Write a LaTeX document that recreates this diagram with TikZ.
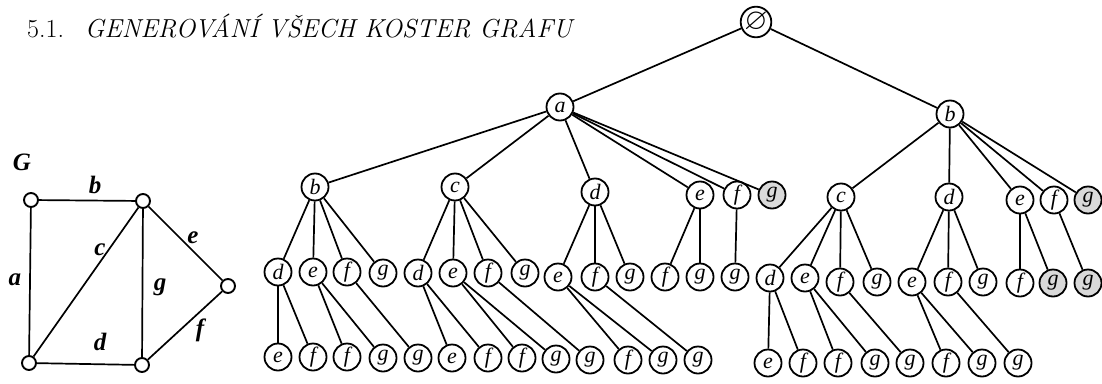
\documentclass[tikz,border=0pt]{standalone}
\usepackage{fontspec}
\usepackage{amssymb}
\newfontfamily\figfont{Liberation Serif}
\begin{document}
\begin{tikzpicture}[x=1pt,y=-1pt,
  vx/.style={circle,draw,line width=1.8pt,minimum size=27pt,inner sep=0pt,
    font=\figfont\itshape\fontsize{22}{22}\selectfont},
  dead/.style={vx,fill=gray!30},
  edge/.style={line width=1.7pt},
  gv/.style={circle,draw,line width=1.9pt,minimum size=14pt,inner sep=0pt,fill=white},
  gedge/.style={line width=1.7pt},
  lbl/.style={font=\figfont\bfseries\itshape\fontsize{25}{25}\selectfont},
]
\useasboundingbox (0,0) rectangle (1102,383);

% heading
\node[anchor=base west,inner sep=0pt,font=\fontsize{26}{30}\selectfont] (title) at (27,37)
  {5.1.\hspace{0.8em}\itshape GENEROVÁNÍ VŠECH KOSTER GRAFU};

% graph G
\node[lbl] (Gname) at (22,162) {G};
\node[gv] (v1) at (31,200) {};
\node[gv] (v2) at (143,201) {};
\node[gv] (v3) at (228,286) {};
\node[gv] (v4) at (29,363) {};
\node[gv] (v5) at (142,365) {};
\draw[gedge] (v1) -- (v4);
\draw[gedge] (v1) -- (v2);
\draw[gedge] (v4) -- (v2);
\draw[gedge] (v4) -- (v5);
\draw[gedge] (v2) -- (v3);
\draw[gedge] (v5) -- (v3);
\draw[gedge] (v2) -- (v5);
\node[lbl] (la) at (15,280) {a};
\node[lbl] (lb) at (95,185) {b};
\node[lbl] (lc) at (100,250) {c};
\node[lbl] (ld) at (100,342) {d};
\node[lbl] (le) at (193,238) {e};
\node[lbl] (lf) at (200,330) {f};
\node[lbl] (lg) at (160,287) {g};

% search tree: root and first level
\node[vx] (r) at (756,22) {\fontsize{30}{30}\selectfont$\varnothing$};
\node[vx] (a) at (560,107) {a};
\node[vx] (b) at (950,114) {b};

% second level
\node[vx] (ab) at (315,187) {b};
\node[vx] (ac) at (455,187) {c};
\node[vx] (ad) at (595,192) {d};
\node[vx] (ae) at (700,195) {e};
\node[vx] (af) at (737,195) {f};
\node[dead] (ag) at (772,195) {g};
\node[vx] (bc) at (841,197) {c};
\node[vx] (bd) at (949,197) {d};
\node[vx] (be) at (1020,200) {e};
\node[vx] (bf) at (1054,200) {f};
\node[dead] (bg) at (1088,200) {g};

% third level
\node[vx] (abd) at (278,272) {d};
\node[vx] (abe) at (313,272) {e};
\node[vx] (abf) at (347,272) {f};
\node[vx] (abg) at (383,273) {g};
\node[vx] (acd) at (418,273) {d};
\node[vx] (ace) at (453,273) {e};
\node[vx] (acf) at (488,273) {f};
\node[vx] (acg) at (525,273) {g};
\node[vx] (ade) at (558,277) {e};
\node[vx] (adf) at (595,277) {f};
\node[vx] (adg) at (630,277) {g};
\node[vx] (aef) at (665,277) {f};
\node[vx] (aeg) at (700,277) {g};
\node[vx] (afg) at (735,277) {g};
\node[vx] (bcd) at (770,278) {d};
\node[vx] (bce) at (805,278) {e};
\node[vx] (bcf) at (840,282) {f};
\node[vx] (bcg) at (877,282) {g};
\node[vx] (bde) at (912,282) {e};
\node[vx] (bdf) at (948,282) {f};
\node[vx] (bdg) at (983,282) {g};
\node[vx] (bef) at (1020,283) {f};
\node[dead] (beg) at (1053,283) {g};
\node[dead] (bfg) at (1088,283) {g};

% fourth level
\node[vx] (abde) at (278,357) {e};
\node[vx] (abdf) at (313,357) {f};
\node[vx] (abef) at (347,357) {f};
\node[vx] (abeg) at (383,358) {g};
\node[vx] (abfg) at (418,358) {g};
\node[vx] (acde) at (452,358) {e};
\node[vx] (acdf) at (488,358) {f};
\node[vx] (acef) at (522,358) {f};
\node[vx] (aceg) at (556,359) {g};
\node[vx] (acfg) at (590,360) {g};
\node[vx] (adef) at (628,360) {f};
\node[vx] (adeg) at (663,360) {g};
\node[vx] (adfg) at (698,360) {g};
\node[vx] (bcde) at (768,363) {e};
\node[vx] (bcdf) at (803,363) {f};
\node[vx] (bcef) at (838,363) {f};
\node[vx] (bceg) at (875,363) {g};
\node[vx] (bcfg) at (910,363) {g};
\node[vx] (bdef) at (946,363) {f};
\node[vx] (bdeg) at (982,363) {g};
\node[vx] (bdfg) at (1018,363) {g};

% tree edges
\foreach \p/\c in {r/a, r/b,
  a/ab, a/ac, a/ad, a/ae, a/af, a/ag,
  b/bc, b/bd, b/be, b/bf, b/bg,
  ab/abd, ab/abe, ab/abf, ab/abg,
  ac/acd, ac/ace, ac/acf, ac/acg,
  ad/ade, ad/adf, ad/adg,
  ae/aef, ae/aeg, af/afg,
  bc/bcd, bc/bce, bc/bcf, bc/bcg,
  bd/bde, bd/bdf, bd/bdg,
  be/bef, be/beg, bf/bfg,
  abd/abde, abd/abdf, abe/abef, abe/abeg, abf/abfg,
  acd/acde, acd/acdf, ace/acef, ace/aceg, acf/acfg,
  ade/adef, ade/adeg, adf/adfg,
  bcd/bcde, bcd/bcdf, bce/bcef, bce/bceg, bcf/bcfg,
  bde/bdef, bde/bdeg, bdf/bdfg}
  \draw[edge] (\p) -- (\c);
\end{tikzpicture}
\end{document}
